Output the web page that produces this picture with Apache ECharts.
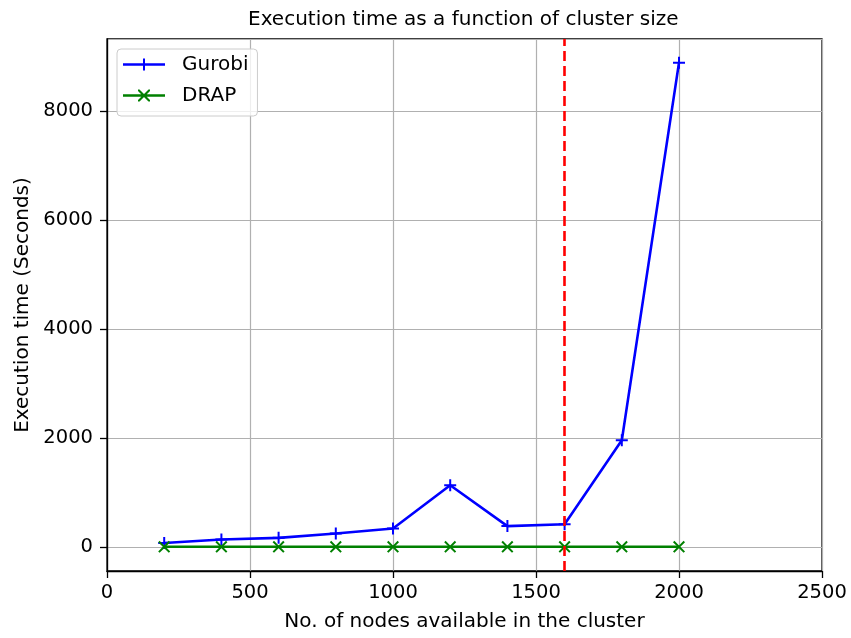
<!DOCTYPE html>
<html>
<head>
<meta charset="utf-8">
<script src="https://cdn.jsdelivr.net/npm/echarts@6/dist/echarts.min.js"></script>
<style>
html,body{margin:0;padding:0;background:#fff;}
#chart{width:851px;height:638px;}
</style>
</head>
<body>
<div id="chart"></div>
<script>
const nodes = [200, 400, 600, 800, 1000, 1200, 1400, 1600, 1800, 2000];
const gurobi = [70, 135, 165, 245, 335, 1130, 380, 415, 1955, 8890];
const drap = [0, 0, 0, 0, 0, 0, 0, 0, 0, 0];
const thresholdNodes = 1600;
const xTicks = [0, 500, 1000, 1500, 2000, 2500];
const yTicks = [0, 2000, 4000, 6000, 8000];

const FONT = 'DejaVu Sans';
const plusPath = 'path://M5,0H7V5H12V7H7V12H5V7H0V5H5Z';
const xPath = 'path://M6.5,0H8.5V6.5H15V8.5H8.5V15H6.5V8.5H0V6.5H6.5Z';
const plusLegend = 'path://M0,4.7H42V7.3H0Z M20,0H22V12H20Z';
const xLegend = 'path://M0,4.7H42V7.3H0Z M15,0L16.5,0L27,10.5L27,12L25.5,12L15,1.5Z M27,0L27,1.5L16.5,12L15,12L15,10.5L25.5,0Z';

const chart = echarts.init(document.getElementById('chart'), null, {renderer: 'canvas'});
chart.setOption({
  animation: false,
  backgroundColor: '#ffffff',
  title: {
    text: 'Execution time as a function of cluster size',
    left: 243, top: 5,
    textStyle: {fontFamily: FONT, fontSize: 20, fontWeight: 'normal', color: '#000'}
  },
  legend: {
    orient: 'vertical',
    left: 117, top: 49,
    padding: [5, 9, 10, 6],
    itemGap: 10,
    itemWidth: 42, itemHeight: 12,
    symbolKeepAspect: false,
    backgroundColor: 'rgba(255,255,255,0.8)',
    borderColor: '#cccccc', borderWidth: 1, borderRadius: 4,
    textStyle: {fontFamily: FONT, fontSize: 20, color: '#000', lineHeight: 21, padding: [0, 0, 0, 12]},
    data: [
      {name: 'Gurobi', icon: plusLegend},
      {name: 'DRAP', icon: xLegend}
    ]
  },
  grid: {
    left: 107, right: 29, top: 39, bottom: 67,
    show: true, borderColor: '#000', borderWidth: 1.3, backgroundColor: 'transparent'
  },
  xAxis: {
    type: 'value', min: 0, max: 2500, interval: 500,
    name: 'No. of nodes available in the cluster',
    nameLocation: 'middle', nameGap: 41,
    nameTextStyle: {fontFamily: FONT, fontSize: 20, color: '#000'},
    axisLine: {show: true, onZero: false, lineStyle: {color: '#000', width: 1.3}},
    axisTick: {show: true, length: 7, lineStyle: {color: '#000', width: 1.3}},
    axisLabel: {fontFamily: FONT, fontSize: 19.5, color: '#000', margin: 12,
      formatter: v => xTicks.includes(v) ? String(v) : ''},
    splitLine: {show: true, lineStyle: {color: '#b0b0b0', width: 1.2}}
  },
  yAxis: {
    type: 'value', min: -444, max: 9324, splitNumber: 5,
    name: 'Execution time (Seconds)',
    nameLocation: 'middle', nameGap: 72,
    nameTextStyle: {fontFamily: FONT, fontSize: 20, color: '#000'},
    axisLine: {show: true, onZero: false, lineStyle: {color: '#000', width: 1.3}},
    axisTick: {show: true, length: 7, lineStyle: {color: '#000', width: 1.3}},
    axisLabel: {fontFamily: FONT, fontSize: 19.5, color: '#000', margin: 14,
      showMinLabel: false, showMaxLabel: false,
      formatter: v => yTicks.includes(v) ? String(v) : ''},
    splitLine: {show: true, lineStyle: {color: '#b0b0b0', width: 1.2}}
  },
  series: [
    {
      name: 'Gurobi', type: 'line',
      data: nodes.map((n, i) => [n, gurobi[i]]),
      symbol: plusPath, symbolSize: 12,
      itemStyle: {color: '#0000ff'},
      lineStyle: {color: '#0000ff', width: 2.6},
      z: 3
    },
    {
      name: 'DRAP', type: 'line',
      data: nodes.map((n, i) => [n, drap[i]]),
      symbol: xPath, symbolSize: 15, symbolRotate: 45,
      itemStyle: {color: '#008000'},
      lineStyle: {color: '#008000', width: 2.6},
      z: 4,
      markLine: {
        silent: true, symbol: ['none', 'none'],
        label: {show: false},
        lineStyle: {color: '#ff0000', type: [10, 5], width: 2.6},
        data: [{xAxis: thresholdNodes}]
      }
    }
  ]
});
</script>
</body>
</html>
